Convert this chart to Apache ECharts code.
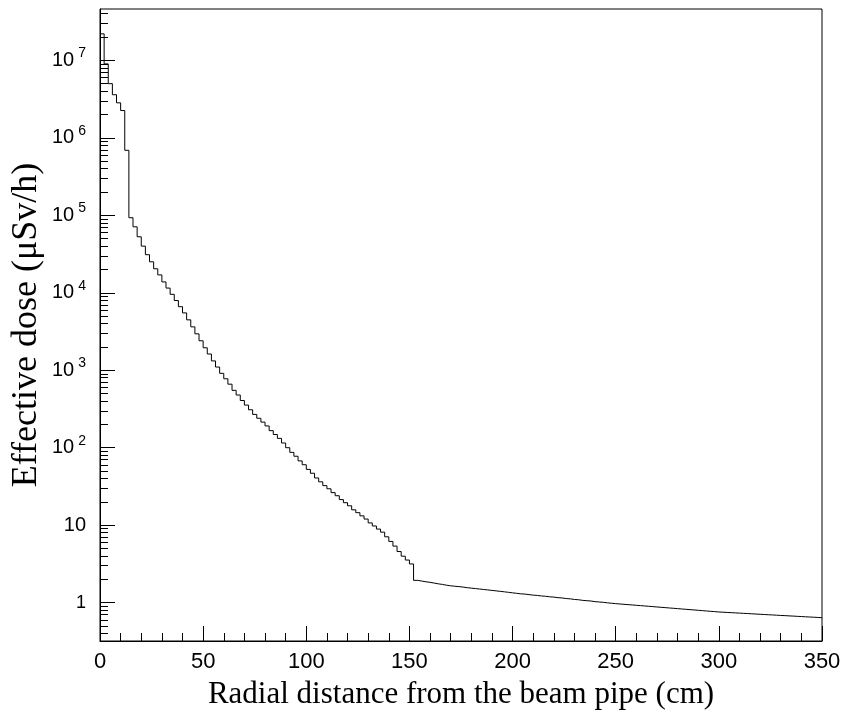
<!DOCTYPE html>
<html>
<head>
<meta charset="utf-8">
<script src="https://cdn.jsdelivr.net/npm/echarts@6/dist/echarts.min.js"></script>
<style>html,body{margin:0;padding:0;background:#fff;}#c{width:843px;height:713px;}</style>
</head>
<body>
<div id="c"></div>
<script>
// Histogram: bins of 2 cm from 0 to 350 cm
const binStart = 0;
const binWidth = 2;
// effective dose per bin (µSv/h)
const doseNear = [2.2e7, 9.0e6, 5.0e6, 3.6e6, 2.83e6, 2.25e6, 6.9e5, 9.3e4, 7.1e4, 5.28e4, 4.0e4, 3.1e4];
const doseMid = [25100, 20400, 17000, 13800, 11500, 9550, 7940, 6610, 5500, 4470,
  3630, 2950, 2400, 1950, 1620, 1320, 1100, 912, 776, 661,
  550, 479, 407, 355, 309, 269, 240, 214, 191, 166,
  148, 132, 115, 100, 87.1, 77.6, 67.6, 60.3, 52.5, 46.8,
  40.7, 36.3, 32.4, 29.5, 26.3, 24.0, 21.4, 19.5, 17.8, 15.8,
  14.5, 13.2, 12.0, 10.7, 9.77, 8.91, 8.13, 7.08, 6.17, 5.37,
  4.57, 3.98, 3.55, 3.16];
const doseFar = [1.94, 1.90, 1.86, 1.83, 1.79, 1.75, 1.72, 1.68, 1.65, 1.63,
  1.61, 1.59, 1.56, 1.54, 1.52, 1.50, 1.48, 1.46, 1.44, 1.42,
  1.40, 1.38, 1.36, 1.34, 1.32, 1.30, 1.29, 1.27, 1.25, 1.24,
  1.22, 1.21, 1.19, 1.18, 1.16, 1.15, 1.13, 1.12, 1.10, 1.09,
  1.07, 1.06, 1.05, 1.03, 1.02, 1.01, 0.995, 0.983, 0.971, 0.962,
  0.952, 0.943, 0.934, 0.925, 0.916, 0.907, 0.898, 0.889, 0.880, 0.871,
  0.863, 0.854, 0.846, 0.837, 0.829, 0.821, 0.813, 0.805, 0.797, 0.789,
  0.781, 0.773, 0.766, 0.758, 0.753, 0.748, 0.743, 0.738, 0.733, 0.728,
  0.723, 0.718, 0.713, 0.708, 0.703, 0.698, 0.694, 0.689, 0.684, 0.680,
  0.675, 0.671, 0.666, 0.662, 0.657, 0.653, 0.649, 0.644, 0.640];
const xTickLabels = [0, 50, 100, 150, 200, 250, 300, 350];
const yMajorTicks = [1, 10, 100, 1e3, 1e4, 1e5, 1e6, 1e7];
const yMinorTicks = [0.4, 0.5, 0.6, 0.7, 0.8, 0.9,
  2, 3, 4, 5, 6, 7, 8, 9, 20, 30, 40, 50, 60, 70, 80, 90,
  200, 300, 400, 500, 600, 700, 800, 900,
  2e3, 3e3, 4e3, 5e3, 6e3, 7e3, 8e3, 9e3,
  2e4, 3e4, 4e4, 5e4, 6e4, 7e4, 8e4, 9e4,
  2e5, 3e5, 4e5, 5e5, 6e5, 7e5, 8e5, 9e5,
  2e6, 3e6, 4e6, 5e6, 6e6, 7e6, 8e6, 9e6,
  2e7, 3e7, 4e7];
const xTitle = 'Radial distance from the beam pipe (cm)';
const yTitle = 'Effective dose (μSv/h)';

const dose = doseNear.concat(doseMid, doseFar);
const stepData = dose.map((v, i) => [binStart + i * binWidth, v]);
stepData.push([binStart + dose.length * binWidth, dose[dose.length - 1]]);

const yMin = 0.32, yMax = 4.6e7;
const labelFont = 'Liberation Sans, Arial, sans-serif';
const titleFont = 'Liberation Serif, Times New Roman, serif';

const chart = echarts.init(document.getElementById('c'), null, {renderer: 'canvas'});
chart.setOption({
  animation: false,
  backgroundColor: '#fff',
  grid: {left: 100, right: 21, top: 9, bottom: 72, show: true, borderColor: '#000', borderWidth: 1,
    backgroundColor: 'transparent', containLabel: false, outerBoundsMode: 'none'},
  xAxis: {
    type: 'value', min: 0, max: 350, interval: 50,
    name: xTitle, nameLocation: 'middle', nameGap: 38, nameMoveOverlap: false,
    nameTextStyle: {fontFamily: titleFont, fontSize: 31, color: '#000'},
    axisLine: {show: true, lineStyle: {color: '#000', width: 1}},
    axisTick: {show: true, inside: true, length: 15, lineStyle: {color: '#000'}},
    minorTick: {show: true, splitNumber: 5, length: 8, lineStyle: {color: '#000'}},
    axisLabel: {customValues: xTickLabels, fontFamily: labelFont, fontSize: 22, color: '#000', margin: 10},
    splitLine: {show: false}
  },
  yAxis: [{
    type: 'log', logBase: 10, min: yMin, max: yMax,
    name: yTitle, nameLocation: 'middle', nameGap: 55, nameRotate: 90, nameMoveOverlap: false,
    nameTextStyle: {fontFamily: titleFont, fontSize: 36, color: '#000'},
    axisLine: {show: true, lineStyle: {color: '#000', width: 1}},
    axisTick: {show: true, inside: true, length: 15, customValues: yMajorTicks, lineStyle: {color: '#000'}},
    axisLabel: {
      customValues: yMajorTicks, margin: 14, color: '#000',
      fontFamily: labelFont, fontSize: 20,
      formatter: function (v) {
        const p = Math.round(Math.log10(v));
        if (p === 0) return '{s|1}';
        if (p === 1) return '{b|10}';
        return '{b|10}{sup|' + p + '}';
      },
      rich: {
        b: {fontFamily: labelFont, fontSize: 20, color: '#000'},
        s: {fontFamily: labelFont, fontSize: 18, color: '#000'},
        sup: {fontFamily: labelFont, fontSize: 14, color: '#000', padding: [0, 0, 14, 4]}
      }
    },
    splitLine: {show: false}
  }, {
    type: 'log', logBase: 10, min: yMin, max: yMax, position: 'left',
    axisLine: {show: false},
    axisTick: {show: true, inside: true, length: 8, customValues: yMinorTicks, lineStyle: {color: '#000'}},
    axisLabel: {show: false},
    splitLine: {show: false}
  }],
  series: [{
    type: 'line', step: 'end', data: stepData, showSymbol: false, symbol: 'none',
    lineStyle: {color: '#000', width: 1}, yAxisIndex: 0, clip: true
  }]
});
</script>
</body>
</html>
